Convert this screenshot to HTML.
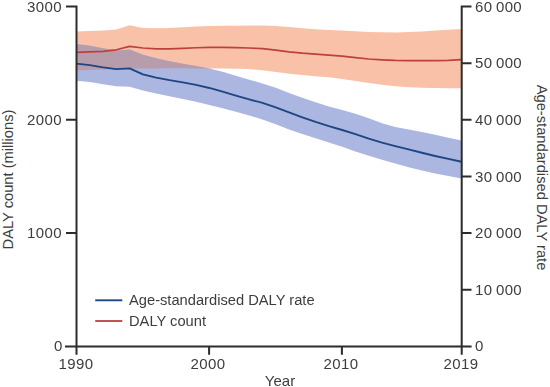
<!DOCTYPE html>
<html><head><meta charset="utf-8"><style>
html,body{margin:0;padding:0;background:#fff;width:550px;height:387px;overflow:hidden}
body{position:relative;font-family:"Liberation Sans",sans-serif;font-size:15px;color:#3d3d3d}
svg{position:absolute;left:0;top:0}
.t{position:absolute;white-space:nowrap;line-height:17px;height:17px;will-change:transform}
.c{width:80px;text-align:center}
.lg{font-size:14.7px}
.n{letter-spacing:0.4px}
.rl{font-size:14.7px;left:-67.3px;top:170.5px;width:150px;text-align:center;transform:rotate(-90deg);transform-origin:center;will-change:auto}
.rr{font-size:14.7px;left:445.8px;top:169.3px;width:190px;text-align:center;transform:rotate(90deg);transform-origin:center;will-change:auto}
</style></head><body>
<svg width="550" height="387" viewBox="0 0 550 387">
<defs><clipPath id="rc"><path d="M76.50,31.40 L89.78,31.03 L103.07,30.57 L116.35,29.47 L129.63,25.17 L142.91,27.89 L156.20,28.15 L169.48,27.98 L182.76,27.29 L196.04,26.52 L209.33,26.07 L222.61,25.82 L235.89,25.64 L249.18,25.52 L262.46,25.53 L275.74,26.00 L289.02,27.09 L302.31,28.34 L315.59,29.33 L328.87,29.98 L342.16,30.56 L355.44,31.29 L368.72,31.96 L382.00,32.37 L395.29,32.42 L408.57,32.08 L421.85,31.39 L435.13,30.51 L448.42,29.66 L461.50,28.90 L461.50,88.30 L448.42,88.19 L435.13,88.08 L421.85,87.82 L408.57,87.18 L395.29,86.14 L382.00,84.75 L368.72,83.10 L355.44,81.09 L342.16,78.94 L328.87,77.30 L315.59,76.17 L302.31,75.09 L289.02,73.68 L275.74,71.88 L262.46,70.16 L249.18,69.07 L235.89,68.65 L222.61,68.52 L209.33,68.47 L196.04,68.42 L182.76,68.36 L169.48,68.35 L156.20,68.42 L142.91,68.54 L129.63,68.76 L116.35,69.09 L103.07,69.42 L89.78,69.89 L76.50,70.50 Z"/></clipPath></defs>
<path d="M76.50,31.40 L89.78,31.03 L103.07,30.57 L116.35,29.47 L129.63,25.17 L142.91,27.89 L156.20,28.15 L169.48,27.98 L182.76,27.29 L196.04,26.52 L209.33,26.07 L222.61,25.82 L235.89,25.64 L249.18,25.52 L262.46,25.53 L275.74,26.00 L289.02,27.09 L302.31,28.34 L315.59,29.33 L328.87,29.98 L342.16,30.56 L355.44,31.29 L368.72,31.96 L382.00,32.37 L395.29,32.42 L408.57,32.08 L421.85,31.39 L435.13,30.51 L448.42,29.66 L461.50,28.90 L461.50,88.30 L448.42,88.19 L435.13,88.08 L421.85,87.82 L408.57,87.18 L395.29,86.14 L382.00,84.75 L368.72,83.10 L355.44,81.09 L342.16,78.94 L328.87,77.30 L315.59,76.17 L302.31,75.09 L289.02,73.68 L275.74,71.88 L262.46,70.16 L249.18,69.07 L235.89,68.65 L222.61,68.52 L209.33,68.47 L196.04,68.42 L182.76,68.36 L169.48,68.35 L156.20,68.42 L142.91,68.54 L129.63,68.76 L116.35,69.09 L103.07,69.42 L89.78,69.89 L76.50,70.50 Z" fill="rgb(249,194,168)"/>
<path d="M76.50,44.00 L89.78,45.74 L103.07,48.35 L116.35,50.39 L129.63,49.51 L142.91,54.63 L156.20,58.36 L169.48,61.26 L182.76,63.63 L196.04,65.88 L209.33,68.52 L222.61,71.84 L235.89,75.76 L249.18,79.69 L262.46,83.39 L275.74,87.84 L289.02,92.91 L302.31,97.63 L315.59,102.14 L328.87,106.44 L342.16,110.06 L355.44,113.64 L368.72,118.26 L382.00,123.19 L395.29,126.93 L408.57,129.61 L421.85,132.07 L435.13,134.78 L448.42,137.70 L461.50,140.50 L461.50,178.50 L448.42,176.05 L435.13,173.38 L421.85,170.46 L408.57,167.19 L395.29,163.51 L382.00,159.75 L368.72,155.86 L355.44,151.45 L342.16,146.85 L328.87,142.47 L315.59,138.26 L302.31,134.12 L289.02,129.48 L275.74,124.29 L262.46,119.45 L249.18,115.38 L235.89,111.70 L222.61,108.20 L209.33,104.91 L196.04,101.84 L182.76,99.03 L169.48,96.33 L156.20,93.53 L142.91,90.62 L129.63,86.79 L116.35,86.21 L103.07,84.16 L89.78,82.11 L76.50,80.70 Z" fill="rgb(172,183,225)"/>
<path d="M76.50,44.00 L89.78,45.74 L103.07,48.35 L116.35,50.39 L129.63,49.51 L142.91,54.63 L156.20,58.36 L169.48,61.26 L182.76,63.63 L196.04,65.88 L209.33,68.52 L222.61,71.84 L235.89,75.76 L249.18,79.69 L262.46,83.39 L275.74,87.84 L289.02,92.91 L302.31,97.63 L315.59,102.14 L328.87,106.44 L342.16,110.06 L355.44,113.64 L368.72,118.26 L382.00,123.19 L395.29,126.93 L408.57,129.61 L421.85,132.07 L435.13,134.78 L448.42,137.70 L461.50,140.50 L461.50,178.50 L448.42,176.05 L435.13,173.38 L421.85,170.46 L408.57,167.19 L395.29,163.51 L382.00,159.75 L368.72,155.86 L355.44,151.45 L342.16,146.85 L328.87,142.47 L315.59,138.26 L302.31,134.12 L289.02,129.48 L275.74,124.29 L262.46,119.45 L249.18,115.38 L235.89,111.70 L222.61,108.20 L209.33,104.91 L196.04,101.84 L182.76,99.03 L169.48,96.33 L156.20,93.53 L142.91,90.62 L129.63,86.79 L116.35,86.21 L103.07,84.16 L89.78,82.11 L76.50,80.70 Z" fill="rgb(183,156,171)" clip-path="url(#rc)"/>
<path d="M76.50,52.40 L89.78,51.95 L103.07,51.42 L116.35,49.80 L129.63,46.40 L142.91,48.02 L156.20,48.85 L169.48,48.91 L182.76,48.38 L196.04,47.76 L209.33,47.45 L222.61,47.45 L235.89,47.62 L249.18,48.00 L262.46,48.72 L275.74,50.09 L289.02,51.91 L302.31,53.20 L315.59,54.13 L328.87,55.15 L342.16,56.20 L355.44,57.64 L368.72,58.98 L382.00,59.80 L395.29,60.33 L408.57,60.55 L421.85,60.63 L435.13,60.64 L448.42,60.33 L461.00,59.60" fill="none" stroke="rgb(190,64,60)" stroke-width="1.7" stroke-linejoin="round"/>
<path d="M76.50,63.60 L89.78,65.07 L103.07,67.34 L116.35,69.09 L129.63,68.41 L142.91,74.37 L156.20,77.58 L169.48,80.13 L182.76,82.36 L196.04,84.84 L209.33,87.96 L222.61,91.71 L235.89,95.63 L249.18,99.31 L262.46,102.95 L275.74,107.37 L289.02,112.42 L302.31,117.31 L315.59,121.91 L328.87,126.11 L342.16,129.98 L355.44,134.13 L368.72,138.59 L382.00,142.68 L395.29,146.13 L408.57,149.39 L421.85,152.76 L435.13,155.97 L448.42,158.93 L461.50,161.80" fill="none" stroke="rgb(30,70,128)" stroke-width="1.9" stroke-linejoin="round"/>
<path d="M76.5,5.6 V347.3 M66,6.6 H77.5 M66,119.85 H76.5 M66,233.1 H76.5 M65,346.5 H471.6 M461.7,5.5 V347.3 M460.7,6.5 H471.5 M461.7,63.2 H471.5 M461.7,119.8 H471.5 M461.7,176.5 H471.5 M461.7,233.1 H471.5 M461.7,289.7 H471.5 M76.5,346 V354.7 M209.1,346 V354.7 M341.9,346 V354.7 M461.7,346 V354.7" stroke="#2c2c2c" stroke-width="2" fill="none"/>
<path d="M95.2,300.3 H122.3" stroke="rgb(30,70,128)" stroke-width="1.9"/>
<path d="M95.2,321 H122.3" stroke="rgb(190,64,60)" stroke-width="1.8"/>
</svg>
<div class="t n" style="right:487.7px;top:-2.4px;text-align:right">3000</div>
<div class="t n" style="right:487.7px;top:110.8px;text-align:right">2000</div>
<div class="t n" style="right:487.7px;top:224.1px;text-align:right">1000</div>
<div class="t n" style="right:487.7px;top:337.3px;text-align:right">0</div>
<div class="t n" style="left:474.8px;top:-2.5px">60 000</div>
<div class="t n" style="left:474.8px;top:54.2px">50 000</div>
<div class="t n" style="left:474.8px;top:110.8px">40 000</div>
<div class="t n" style="left:474.8px;top:167.5px">30 000</div>
<div class="t n" style="left:474.8px;top:224.1px">20 000</div>
<div class="t n" style="left:474.8px;top:280.7px">10 000</div>
<div class="t n" style="left:474.8px;top:337.4px">0</div>
<div class="t c n" style="left:36.0px;top:355px">1990</div>
<div class="t c n" style="left:167.8px;top:355px">2000</div>
<div class="t c n" style="left:300.7px;top:355px">2010</div>
<div class="t c n" style="left:420.9px;top:355px">2019</div>
<div class="t c" style="left:240px;top:372px">Year</div>
<div class="t lg" style="left:128.5px;top:291.7px">Age-standardised DALY rate</div>
<div class="t lg" style="left:128.5px;top:312.7px">DALY count</div>
<div class="t rl">DALY count (millions)</div>
<div class="t rr">Age-standardised DALY rate</div>
</body></html>
